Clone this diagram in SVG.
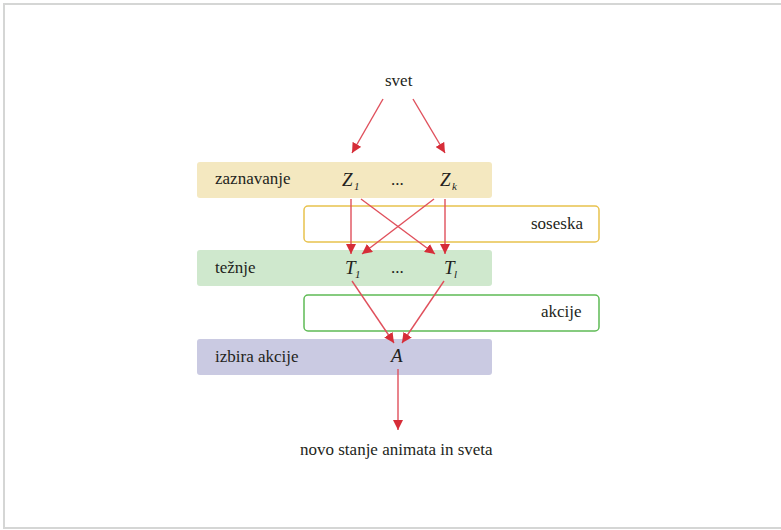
<svg xmlns="http://www.w3.org/2000/svg" width="781" height="530" viewBox="0 0 781 530" font-family="'Liberation Serif', 'Times New Roman', Times, serif">
<style>
text{fill:#231f20;font-size:17px}
.v{font-style:italic;font-size:19px}
.s{font-style:italic;font-size:11px}
.c{stroke:#e0505c;stroke-width:1.4;fill:none;marker-end:url(#ah)}
</style>
<defs>
<marker id="ah" viewBox="0 0 10 10" refX="10" refY="5" markerWidth="10" markerHeight="10" markerUnits="userSpaceOnUse" orient="auto">
<path d="M0,0 L10,5 L0,10 z" fill="#d62d38"/>
</marker>
</defs>
<rect x="0" y="0" width="781" height="530" fill="#fff"/>
<rect x="4" y="4" width="800" height="524" fill="none" stroke="#d5d6d5" stroke-width="2"/>
<g id="svet"><text x="385" y="86">svet</text></g>
<g id="zaznavanje">
<rect x="197" y="162" width="295" height="36" rx="3" fill="#f4e8c0"/>
<text x="215" y="184">zaznavanje</text>
<text class="v" x="342" y="186">Z</text><text class="s" x="354" y="190">1</text>
<text x="391" y="185">...</text>
<text class="v" x="440" y="186">Z</text><text class="s" x="452" y="190">k</text>
</g>
<g id="soseska">
<rect x="304" y="206" width="295" height="36" rx="4" fill="#fff" stroke="#e8c24e" stroke-width="1.5"/>
<text x="531" y="229">soseska</text>
</g>
<g id="teznje">
<rect x="197" y="250" width="295" height="36" rx="3" fill="#cfe8cd"/>
<text x="215" y="273">težnje</text>
<text class="v" x="345" y="274">T</text><text class="s" x="355" y="278">1</text>
<text x="391" y="273">...</text>
<text class="v" x="444" y="274">T</text><text class="s" x="454" y="278">l</text>
</g>
<g id="akcije">
<rect x="304" y="295" width="295" height="36" rx="4" fill="#fff" stroke="#5fbb55" stroke-width="1.5"/>
<text x="541" y="317">akcije</text>
</g>
<g id="izbira">
<rect x="197" y="339" width="295" height="36" rx="3" fill="#cacae2"/>
<text x="215" y="362">izbira akcije</text>
<text class="v" x="391" y="362">A</text>
</g>
<g id="novo"><text x="300" y="455">novo stanje animata in sveta</text></g>
<g id="connectors">
<line class="c" x1="383" y1="99" x2="352" y2="153"/>
<line class="c" x1="413" y1="99" x2="445" y2="153"/>
<line class="c" x1="351" y1="199" x2="351" y2="254"/>
<line class="c" x1="445" y1="199" x2="445" y2="254"/>
<line class="c" x1="361" y1="199" x2="435" y2="254"/>
<line class="c" x1="434" y1="199" x2="362" y2="254"/>
<line class="c" x1="352" y1="281" x2="394" y2="343"/>
<line class="c" x1="444" y1="281" x2="402" y2="343"/>
<line class="c" x1="398" y1="369" x2="398" y2="430"/>
</g>
</svg>
